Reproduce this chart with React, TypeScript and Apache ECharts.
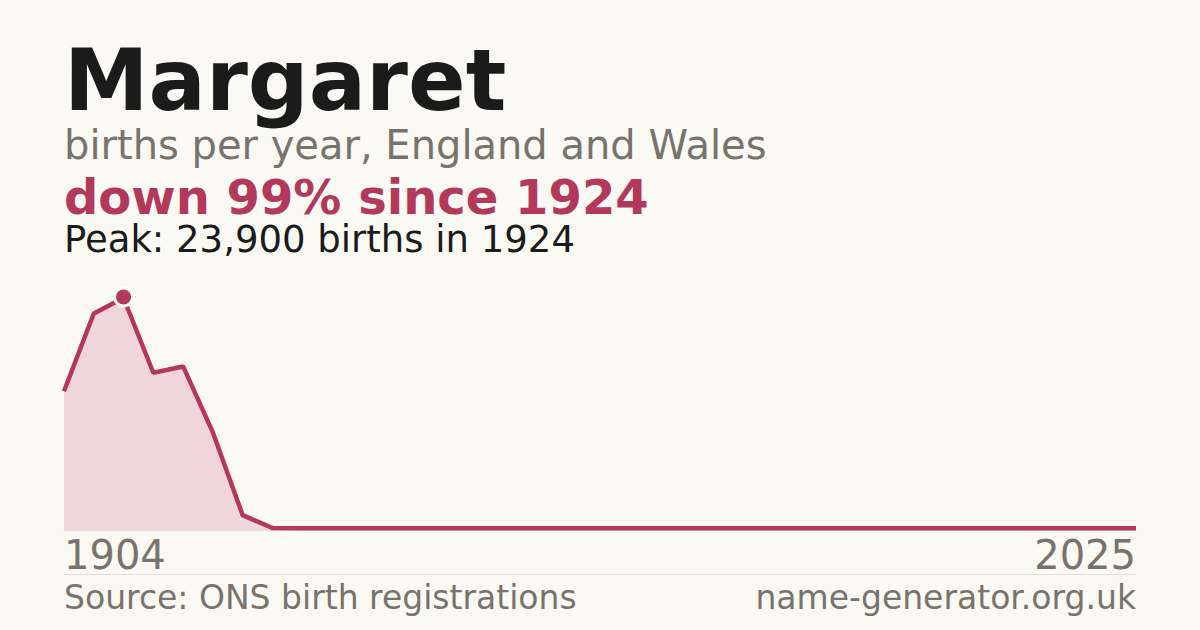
import React, { useEffect, useRef } from 'react';
import * as echarts from 'echarts';

// ONS data: every ten years up to 1994, then yearly
const years = [
  '1904', '1914', '1924', '1934', '1944', '1954', '1964', '1974', '1984', '1994',
  '1999', '2000', '2001', '2002', '2003', '2004', '2005', '2006', '2007', '2008',
  '2009', '2010', '2011', '2012', '2013', '2014', '2015', '2016', '2017', '2018',
  '2019', '2020', '2021', '2022', '2023', '2024', '2025'
];
const births = [
  14300, 22300, 23900, 16200, 16850, 10050, 1530, 200, 190, 185,
  180, 180, 180, 180, 175, 180, 180, 180, 180, 180,
  180, 180, 180, 180, 180, 180, 180, 180, 180, 180,
  180, 180, 180, 180, 180, 180, 180
];

const RED = '#b3395a';
const GREY = '#78736c';
const INK = '#1b1b1b';
const FONT = '"DejaVu Sans", sans-serif';

export default function App() {
  const chartRef = useRef<HTMLDivElement>(null);

  useEffect(() => {
    document.body.style.margin = '0';
    if (!chartRef.current) return;
    const chart = echarts.init(chartRef.current, null, { renderer: 'svg' });
    const last = years.length - 1;

    const option = {
      animation: false,
      backgroundColor: '#faf9f4',
      textStyle: { fontFamily: FONT },
      grid: { left: 64, right: 64, top: 298, bottom: 100 },
      xAxis: {
        type: 'category',
        data: years,
        boundaryGap: false,
        axisLine: { show: true, lineStyle: { color: '#e6dada', width: 1 } },
        axisTick: { show: false },
        axisLabel: {
          interval: (i: number) => i === 0 || i === last,
          alignMinLabel: 'left',
          alignMaxLabel: 'right',
          color: GREY,
          fontSize: 40,
          fontFamily: FONT,
          margin: 5
        }
      },
      yAxis: {
        type: 'value',
        min: 0,
        max: 23900,
        show: false,
        splitLine: { show: false }
      },
      graphic: [
        { type: 'text', left: 64, top: 38, style: { text: 'Margaret', fill: INK, font: `bold 85px ${FONT}` } },
        { type: 'text', left: 64, top: 125, style: { text: 'births per year, England and Wales', fill: GREY, font: `40px ${FONT}` } },
        { type: 'text', left: 64, top: 173, style: { text: 'down 99% since 1924', fill: RED, font: `bold 48px ${FONT}` } },
        { type: 'text', left: 64, top: 221, style: { text: 'Peak: 23,900 births in 1924', fill: INK, font: `37px ${FONT}` } },
        { type: 'line', shape: { x1: 64, y1: 574.5, x2: 1136, y2: 574.5 }, style: { stroke: '#e2dfd8', lineWidth: 1 } },
        { type: 'text', left: 64, top: 581, style: { text: 'Source: ONS birth registrations', fill: GREY, font: `33px ${FONT}` } },
        { type: 'text', right: 64, top: 581, style: { text: 'name-generator.org.uk', fill: GREY, font: `33px ${FONT}` } }
      ],
      series: [
        {
          type: 'line',
          data: births,
          symbol: 'none',
          lineStyle: { color: RED, width: 4.5 },
          areaStyle: { color: '#f0d6dc', opacity: 1 },
          markPoint: {
            data: [{ type: 'max' }],
            symbol: 'circle',
            symbolSize: 18,
            symbolOffset: [0, -1],
            itemStyle: { color: RED, borderColor: '#ffffff', borderWidth: 3 },
            label: { show: false }
          }
        }
      ]
    };

    chart.setOption(option);
    return () => chart.dispose();
  }, []);

  return <div ref={chartRef} style={{ width: 1200, height: 630 }} />;
}
